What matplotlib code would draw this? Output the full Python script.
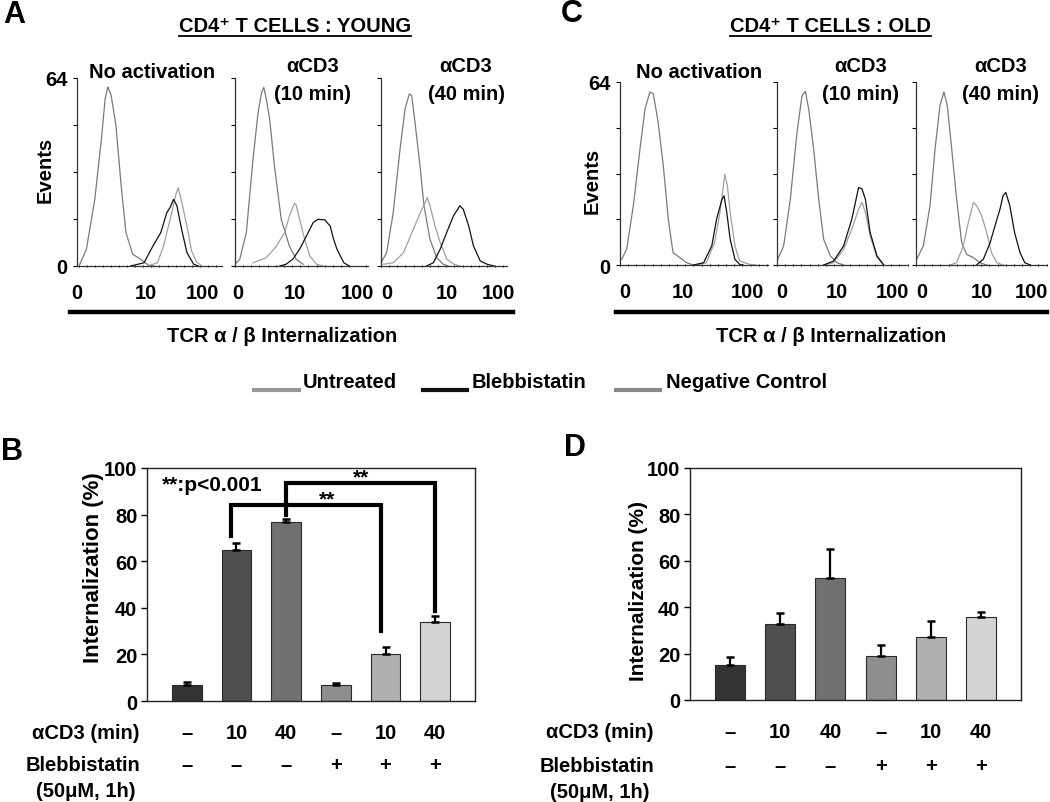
import matplotlib
matplotlib.use("Agg")
import matplotlib.pyplot as plt
from matplotlib.lines import Line2D
from matplotlib.transforms import blended_transform_factory
from matplotlib.ticker import MultipleLocator

plt.rcParams['font.family'] = ['Liberation Sans', 'DejaVu Sans']
plt.rcParams['font.weight'] = 'bold'
plt.rcParams['font.size'] = 14

# ---------------- Histogram data (x in log-decades, y in events) -------------
# YOUNG - No activation
y_na_neg_x = [0, .11, .235, .333, .39, .43, .48, .55, .63, .70, .80, .92, 1.04, 1.12]
y_na_neg_y = [0, 5.7, 22.7, 43, 57, 61, 58, 48, 27, 11.4, 4, 2.3, 0.2, 0]
y_na_unt_x = [1.02, 1.17, 1.26, 1.36, 1.44, 1.48, 1.53, 1.61, 1.68, 1.75, 1.83]
y_na_unt_y = [0, 1.1, 6.8, 16, 24, 26.7, 22, 13.6, 5, 1.5, 0]
y_na_ble_x = [.77, .97, 1.09, 1.22, 1.31, 1.36, 1.41, 1.46, 1.53, 1.61, 1.71, 1.78]
y_na_ble_y = [0, 1.1, 6.3, 11.4, 18.2, 20, 22.7, 20.5, 12.5, 4.5, 0.6, 0]
# YOUNG - aCD3 10 min
y_10_neg_x = [0, .07, .167, .265, .34, .39, .424, .46, .51, .58, .68, .80, .90, 1.0]
y_10_neg_y = [0.6, 2.3, 11.4, 36.4, 52.3, 59, 60.8, 56.9, 50, 34, 15.9, 6.8, 2.3, 0.6]
y_10_unt_x = [.265, .46, .61, .73, .80, .875, .90, .95, 1.025, 1.10, 1.2, 1.29]
y_10_unt_y = [1.1, 2.8, 6.8, 11.4, 17, 21.4, 20.7, 15.9, 9.1, 3.4, 0.6, 0]
y_10_ble_x = [.66, .75, .85, .95, 1.05, 1.15, 1.22, 1.32, 1.40, 1.45, 1.50, 1.60, 1.68]
y_10_ble_y = [0, .6, 2.3, 5.7, 10.2, 14.8, 15.9, 15.7, 13.6, 9.1, 5.7, 1.1, 0]
# YOUNG - aCD3 40 min
y_40_neg_x = [0, .083, .18, .28, .353, .417, .451, .5, .574, .632, .72, .82, .917, .99]
y_40_neg_y = [1.1, 4.5, 18.2, 39.8, 53.4, 58.6, 58, 48.9, 34.1, 20.5, 9.1, 2.8, 0.6, 0]
y_40_unt_x = [.034, .18, .33, .475, .60, .65, .68, .72, .795, .87, .97, 1.07, 1.16]
y_40_unt_y = [0.6, 1.1, 4.5, 12.5, 19.3, 21.6, 23.3, 20.5, 13.6, 8, 2.3, 0.6, 0]
y_40_ble_x = [.67, .77, .87, .966, 1.064, 1.16, 1.21, 1.29, 1.36, 1.46, 1.56, 1.66]
y_40_ble_y = [0, 1.1, 5.7, 11.4, 17, 20.5, 19.3, 13.6, 6.8, 1.7, 0.6, 0]
# OLD - No activation
o_na_neg_x = [.025, .098, .196, .294, .368, .44, .49, .56, .637, .71, .78, .88, .98, 1.08]
o_na_neg_y = [2, 5.5, 20.7, 40.6, 54.6, 60.5, 59.9, 50, 34.7, 16, 4.3, 2.6, 0.8, 0]
o_na_unt_x = [1.13, 1.27, 1.39, 1.47, 1.52, 1.54, 1.58, 1.62, 1.69, 1.76, 1.91, 2.0]
o_na_unt_y = [0, .8, 7.8, 18.4, 27.7, 31.8, 27.7, 18.4, 6.7, 1.4, .2, 0]
o_na_ble_x = [1.08, 1.23, 1.35, 1.42, 1.50, 1.53, 1.57, 1.62, 1.69, 1.76, 1.81]
o_na_ble_y = [0, .8, 6.7, 16, 23, 24.2, 18.4, 9, 2, .2, 0]
# OLD - aCD3 10 min
o_10_neg_x = [0, .098, .196, .294, .368, .417, .466, .539, .613, .686, .784, .88, .98]
o_10_neg_y = [1.4, 6.7, 23, 46.4, 59.3, 60.7, 54.6, 40.6, 23, 9, 3.2, .8, 0]
o_10_unt_x = [.686, .833, .98, 1.10, 1.20, 1.25, 1.30, 1.37, 1.47, 1.57]
o_10_unt_y = [0, .8, 5.5, 12.5, 19.5, 21.9, 18.4, 10.2, 2.6, 0]
o_10_ble_x = [.686, .833, .98, 1.10, 1.20, 1.25, 1.30, 1.37, 1.47, 1.57]
o_10_ble_y = [0, 1.4, 6.7, 16, 27.1, 26.6, 23, 11.3, 3.2, 0]
# OLD - aCD3 40 min
o_40_neg_x = [.01, .108, .206, .28, .353, .41, .46, .525, .598, .672, .745, .843, .94, 1.04]
o_40_neg_y = [2, 6.7, 20.7, 40.6, 55.8, 60.5, 55.8, 40.6, 23, 7.8, 3.7, 2.6, .8, 0]
o_40_unt_x = [.5, .598, .696, .77, .843, .892, .966, 1.04, 1.11, 1.19, 1.28]
o_40_unt_y = [0, .8, 6.7, 14.9, 21.9, 20.7, 17.2, 11.3, 4.3, .8, 0]
o_40_ble_x = [.89, .99, 1.09, 1.19, 1.235, 1.28, 1.32, 1.38, 1.45, 1.53, 1.60, 1.68]
o_40_ble_y = [0, 2, 7.8, 16, 19.5, 24.2, 25.4, 20.7, 11.3, 4.3, .8, 0]

hist_titles = ['No activation', 'αCD3\n(10 min)', 'αCD3\n(40 min)']
hist_xticklabels = ['0', '10', '100']
hist_ytick_values = [0, 16, 32, 48, 64]
legend_labels = ['Untreated', 'Blebbistatin', 'Negative Control']

# ---------------- Bar chart data -------------
acd3_labels = ['–', '10', '40', '–', '10', '40']
bleb_labels = ['–', '–', '–', '+', '+', '+']
young_mean = [7.0, 65.0, 77.0, 7.0, 20.0, 34.0]
young_err = [1.0, 2.7, 1.1, 0.9, 3.0, 2.6]
old_mean = [15.3, 32.8, 52.8, 18.8, 27.0, 35.6]
old_err = [3.3, 4.5, 12.5, 4.7, 6.9, 2.5]
sig_left = [1, 2]
sig_right = [4, 5]
sig_top = [84, 93.5]
sig_left_end = [71, 80]
sig_right_end = [30, 38.5]

BAR_COLORS = ['#333333', '#4f4f4f', '#707070', '#8e8e8e', '#b0b0b0', '#d4d4d4']
NEG_C = '#7a7a7a'
UNT_C = '#a0a0a0'
BLE_C = '#111111'

W, H = 1050, 803
fig = plt.figure(figsize=(W / 100, H / 100), dpi=100)


def px_axes(l, t, r, b):
    return fig.add_axes([l / W, 1 - b / H, (r - l) / W, (b - t) / H])


def ftxt(x, y, s, **kw):
    return fig.text(x / W, 1 - y / H, s, **kw)


DEC = 68.0  # pixels per decade
FS = 14.5

young_curves = [
    [(y_na_neg_x, y_na_neg_y), (y_na_unt_x, y_na_unt_y), (y_na_ble_x, y_na_ble_y)],
    [(y_10_neg_x, y_10_neg_y), (y_10_unt_x, y_10_unt_y), (y_10_ble_x, y_10_ble_y)],
    [(y_40_neg_x, y_40_neg_y), (y_40_unt_x, y_40_unt_y), (y_40_ble_x, y_40_ble_y)],
]
old_curves = [
    [(o_na_neg_x, o_na_neg_y), (o_na_unt_x, o_na_unt_y), (o_na_ble_x, o_na_ble_y)],
    [(o_10_neg_x, o_10_neg_y), (o_10_unt_x, o_10_unt_y), (o_10_ble_x, o_10_ble_y)],
    [(o_40_neg_x, o_40_neg_y), (o_40_unt_x, o_40_unt_y), (o_40_ble_x, o_40_ble_y)],
]

young_boxes = [(77, 79, 222, 267), (235, 79, 368, 267), (381, 79, 507, 267)]
old_boxes = [(620, 83, 768, 266), (777, 83, 908, 266), (916, 83, 1047, 266)]
young_ticks = [[-0.03, 1.0, 1.84], [0.04, 0.88, 1.8], [0.09, 0.97, 1.73]]
old_ticks = [[0.07, 0.93, 1.88], [0.07, 0.88, 1.7], [0.09, 0.97, 1.7]]
young_title_x = [152, 313, 466]
old_title_x = [699, 861, 1001]


def draw_hist_group(boxes, curves, title_x, tickpos, title_y1):
    for i, (box, cv) in enumerate(zip(boxes, curves)):
        l, t, r, b = box
        ax = px_axes(l, t, r, b)
        for (xs, ys), col in zip(cv, [NEG_C, UNT_C, BLE_C]):
            ax.plot(xs, ys, color=col, lw=0.9)
        ax.set_xlim(0, (r - l) / DEC)
        ax.set_ylim(0, 64)
        for s in ['top', 'right']:
            ax.spines[s].set_visible(False)
        for s in ['left', 'bottom']:
            ax.spines[s].set_linewidth(0.9)
            ax.spines[s].set_color('#333333')
        ax.set_yticks(hist_ytick_values)
        if i == 0:
            ax.set_yticklabels(['0', '', '', '', '64'])
        else:
            ax.set_yticklabels([])
        ax.set_xticks(tickpos[i])
        ax.set_xticklabels(hist_xticklabels)
        ax.xaxis.set_minor_locator(MultipleLocator(0.12))
        ax.tick_params(axis='y', length=3, width=0.8, pad=4, labelsize=FS)
        ax.tick_params(axis='x', which='major', length=0, width=0.8, pad=12, labelsize=FS)
        ax.tick_params(axis='x', which='minor', length=2, width=0.7, direction='inout')
        ax.patch.set_alpha(0)
        lines = hist_titles[i].split('\n')
        if len(lines) == 1:
            ftxt(title_x[i], title_y1, lines[0], ha='center', va='center', fontsize=FS)
        else:
            ftxt(title_x[i], 67, lines[0], ha='center', va='center', fontsize=FS)
            ftxt(title_x[i], 94, lines[1], ha='center', va='center', fontsize=FS)


draw_hist_group(young_boxes, young_curves, young_title_x, young_ticks, 72)
draw_hist_group(old_boxes, old_curves, old_title_x, old_ticks, 73)

# group titles with underline
t_young = ftxt(295, 26, 'CD4⁺ T CELLS : YOUNG', ha='center', va='center', fontsize=FS)
t_old = ftxt(830, 26, 'CD4⁺ T CELLS : OLD', ha='center', va='center', fontsize=FS)

# panel letters
ftxt(14, 15, 'A', ha='center', va='center', fontsize=22)
ftxt(572, 14, 'C', ha='center', va='center', fontsize=22)
ftxt(12, 452, 'B', ha='center', va='center', fontsize=22)
ftxt(575, 448, 'D', ha='center', va='center', fontsize=22)

# Events labels
ftxt(45, 170, 'Events', rotation=90, ha='center', va='center', fontsize=FS)
ftxt(592, 181, 'Events', rotation=90, ha='center', va='center', fontsize=FS)

# thick lines and x labels
fig.add_artist(Line2D([70 / W, 513 / W], [1 - 313 / H, 1 - 313 / H], color='black', lw=3.2))
fig.add_artist(Line2D([616 / W, 1047 / W], [1 - 313 / H, 1 - 313 / H], color='black', lw=3.2))
ftxt(282, 337, 'TCR α / β Internalization', ha='center', va='center', fontsize=FS)
ftxt(831, 337, 'TCR α / β Internalization', ha='center', va='center', fontsize=FS)

# legend
leg_items = [(254, 299, '#999999', 303), (423, 467, BLE_C, 472), (616, 660, '#888888', 666)]
for (x0, x1, col, tx), lab in zip(leg_items, legend_labels):
    fig.add_artist(Line2D([x0 / W, x1 / W], [1 - 391 / H, 1 - 391 / H], color=col, lw=3))
    ftxt(tx, 383, lab, ha='left', va='center', fontsize=FS)


# ---------------- bar charts -------------
def draw_bars(box, means, errs, row_y, row_label_x, ylab_xy, ylab_fs, brackets=False):
    l, t, r, b = box
    ax = px_axes(l, t, r, b)
    xs = list(range(len(means)))
    ax.bar(xs, means, width=0.6, color=BAR_COLORS, edgecolor='#2a2a2a', linewidth=0.8, zorder=2)
    ax.errorbar(xs, means, yerr=[[0] * len(errs), errs], fmt='none', ecolor='black',
                elinewidth=1.6, capsize=3.2, capthick=1.8, zorder=3)
    ax.set_xlim(-0.8, len(means) - 1 + 0.8)
    ax.set_ylim(0, 100)
    ax.set_yticks([0, 20, 40, 60, 80, 100])
    ax.set_xticks([])
    ax.tick_params(axis='y', length=4, width=1, pad=3, labelsize=FS)
    for s in ax.spines.values():
        s.set_linewidth(1.0)
        s.set_color('#222222')
    tr = blended_transform_factory(ax.transData, fig.transFigure)
    for x, a, bl in zip(xs, acd3_labels, bleb_labels):
        ax.text(x, 1 - row_y[0] / H, a, transform=tr, ha='center', va='center', fontsize=FS)
        ax.text(x, 1 - row_y[1] / H, bl, transform=tr, ha='center', va='center', fontsize=FS)
    ftxt(row_label_x[0], row_y[0], 'αCD3 (min)', ha='right', va='center', fontsize=FS)
    ftxt(row_label_x[1], row_y[1], 'Blebbistatin', ha='center', va='center', fontsize=FS)
    ftxt(row_label_x[1] + 3, row_y[1] + 26, '(50μM, 1h)', ha='center', va='center', fontsize=FS)
    ftxt(ylab_xy[0], ylab_xy[1], 'Internalization (%)', rotation=90, ha='center', va='center',
         fontsize=ylab_fs)
    if brackets:
        offs = [-0.1, 0.0]
        for i in range(len(sig_left)):
            xl = sig_left[i] + offs[i]
            xr = sig_right[i] + offs[i]
            ax.plot([xl, xl, xr, xr], [sig_left_end[i], sig_top[i], sig_top[i], sig_right_end[i]],
                    color='black', lw=3, solid_joinstyle='miter', zorder=4, clip_on=False)
        ax.text(2.82, sig_top[0] - 1.5, '**', ha='center', va='bottom', fontsize=15)
        ax.text(3.5, sig_top[1] - 1.5, '**', ha='center', va='bottom', fontsize=15)
        ax.text(-0.5, 93, '**:p<0.001', ha='left', va='center', fontsize=15)
    return ax


draw_bars((147, 469, 475, 702), young_mean, young_err, (734, 766), (139, 83), (94, 568), 16,
          brackets=True)
draw_bars((690, 469, 1021, 701), old_mean, old_err, (733, 767), (654, 597), (638, 591), 15)

# underline group titles
fig.canvas.draw()
rend = fig.canvas.get_renderer()
for tt in (t_young, t_old):
    bb = tt.get_window_extent(rend)
    yy = bb.y0 - 1
    fig.add_artist(Line2D([bb.x0 / W, bb.x1 / W], [yy / H, yy / H], color='black', lw=1.3))

fig.savefig('out.png', dpi=100)
